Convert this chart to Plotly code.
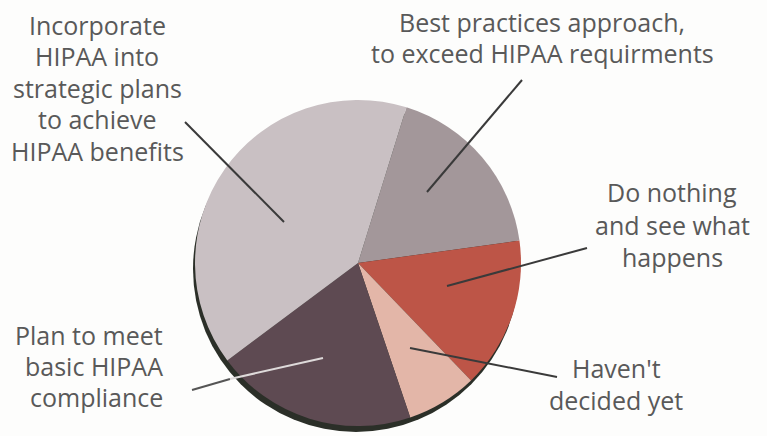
import plotly.graph_objects as go

W, H = 767, 436

labels = ["Best practices approach, to exceed HIPAA requirments",
          "Do nothing and see what happens",
          "Haven't decided yet",
          "Plan to meet basic HIPAA compliance",
          "Incorporate HIPAA into strategic plans to achieve HIPAA benefits"]
values = [18, 15, 7, 20, 40]
colors = ["#a3979a", "#bd5547", "#e3b6a8", "#5e4a52", "#c9c0c3"]

label_lines = [["Best practices approach,", "to exceed HIPAA requirments"],
               ["Do nothing", "and see what", "happens"],
               ["Haven't", "decided yet"],
               ["Plan to meet", "basic HIPAA", "compliance"],
               ["Incorporate", "HIPAA into", "strategic plans", "to achieve", "HIPAA benefits"]]
# (anchor x, first line y, line step, anchor)
label_pos = [(542, 22, 31.5, "center"), (672, 192, 32.5, "center"), (616, 368, 32, "center"),
             (165, 335, 31, "right"), (97, 25, 31.5, "center")]
leaders = [[(522, 80, 427, 192, "#3a3a3a")],
           [(587, 248, 447, 286, "#3a3a3a")],
           [(557, 377, 410, 348, "#3a3a3a")],
           [(192, 390, 230, 379, "#555555"), (230, 379, 323, 358, "#dedada")],
           [(185, 122, 284, 222, "#3a3a3a")]]


def px(x):
    return x / W


def py(y):
    return 1 - y / H


fig = go.Figure()
# shadow rim
fig.add_trace(go.Pie(values=[1], marker=dict(colors=["#2b2f28"]), textinfo="none",
                     hoverinfo="skip", showlegend=False, sort=False,
                     domain=dict(x=[px(193), px(519)], y=[py(432), py(106)])))
fig.add_trace(go.Pie(labels=labels, values=values, sort=False, direction="clockwise",
                     rotation=17.3, marker=dict(colors=colors, line=dict(width=0)),
                     textinfo="none", showlegend=False,
                     domain=dict(x=[px(195), px(521)], y=[py(426), py(100)])))

for lines, (x, y0, step, al) in zip(label_lines, label_pos):
    for i, t in enumerate(lines):
        fig.add_annotation(x=px(x), y=py(y0 + i * step), xref="paper", yref="paper", text=t,
                           showarrow=False, xanchor=al, yanchor="middle",
                           font=dict(family="Open Sans", size=25, color="#595959"))

for segs in leaders:
    for (x0, y0, x1, y1, c) in segs:
        fig.add_shape(type="line", xref="paper", yref="paper",
                      x0=px(x0), y0=py(y0), x1=px(x1), y1=py(y1),
                      line=dict(color=c, width=2))

fig.update_layout(width=W, height=H, margin=dict(l=0, r=0, t=0, b=0),
                  paper_bgcolor="#fdfdfc", plot_bgcolor="#fdfdfc")
fig.write_html("out.html", config={"displayModeBar": False})

with open("out.html", encoding="utf-8") as f:
    html = f.read()
html = html.replace("<body>", '<body style="margin:0;padding:0;background:#fdfdfc">', 1)
with open("out.html", "w", encoding="utf-8") as f:
    f.write(html)
